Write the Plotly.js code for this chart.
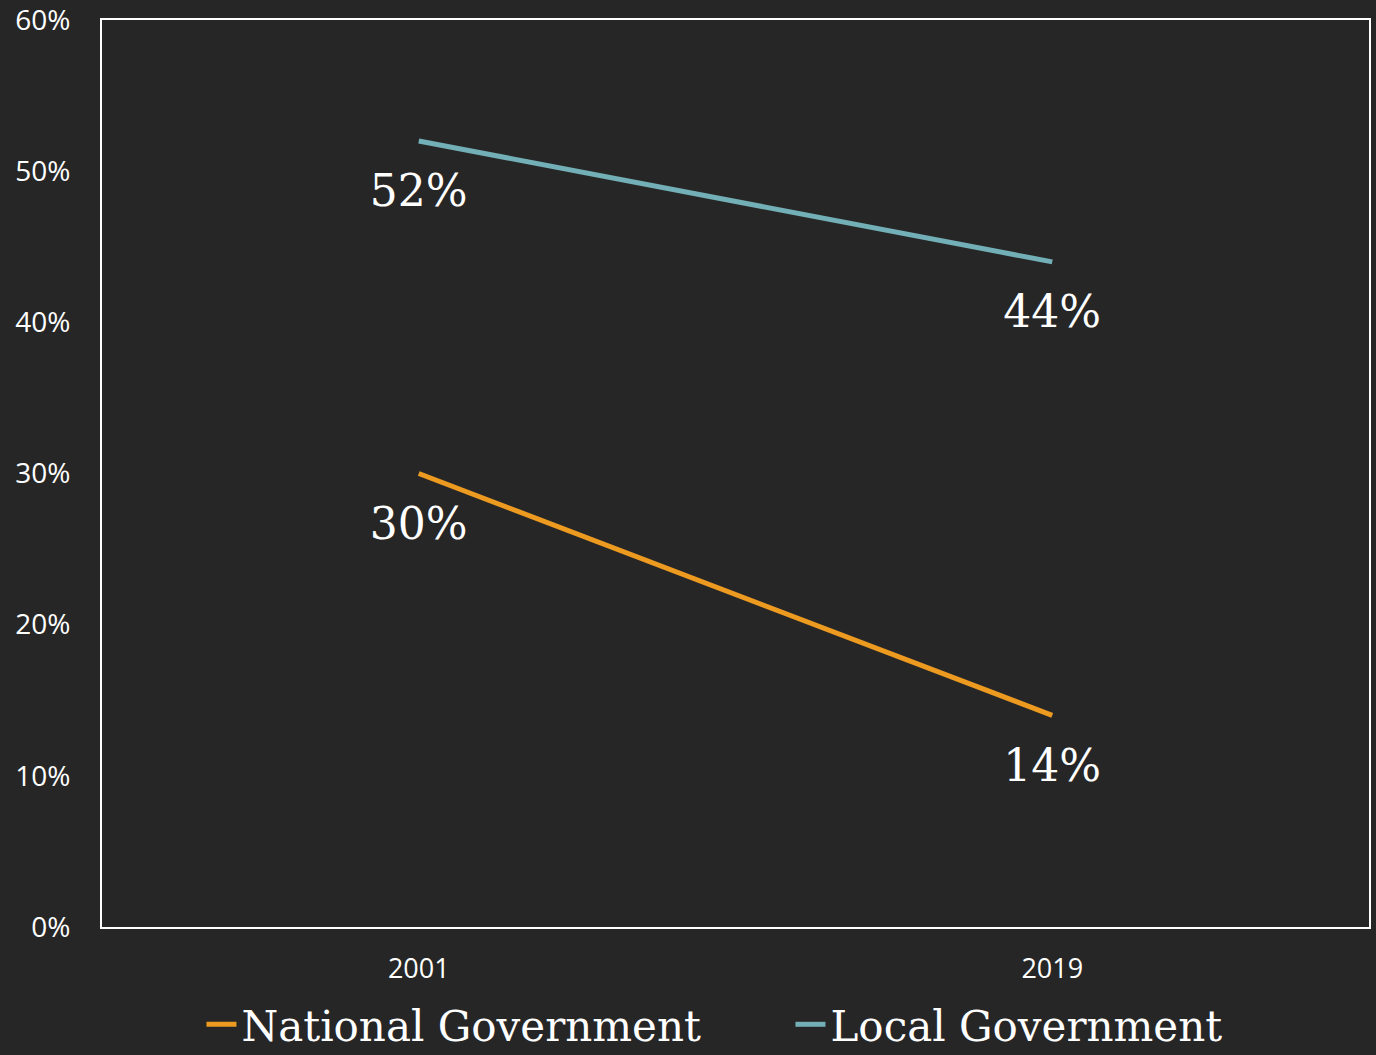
<!DOCTYPE html>
<html>
<head>
<meta charset="utf-8">
<script src="https://cdn.plot.ly/plotly-3.0.1.min.js"></script>
<style>
html,body{margin:0;padding:0;background:#262626;}
#chart{width:1376px;height:1055px;}
</style>
</head>
<body>
<div id="chart"></div>
<script>
const years = ['2001', '2019'];
const nationalValues = [0.30, 0.14];
const localValues = [0.52, 0.44];
const nationalLabels = ['30%', '14%'];
const localLabels = ['52%', '44%'];

const labelFont = {family: 'DejaVu Serif', size: 44, color: '#ffffff'};
const orange = '#ED9A21';
const teal = '#72AFB6';

const traces = [
  {
    x: years, y: nationalValues, name: 'National Government',
    type: 'scatter', mode: 'lines',
    line: {color: orange, width: 5},
    hoverinfo: 'skip'
  },
  {
    x: years, y: localValues, name: 'Local Government',
    type: 'scatter', mode: 'lines',
    line: {color: teal, width: 5},
    hoverinfo: 'skip'
  },
  {
    x: years, y: nationalValues, showlegend: false,
    type: 'scatter', mode: 'markers+text',
    text: nationalLabels, textposition: 'bottom center', textfont: labelFont,
    marker: {size: 50, color: 'rgba(0,0,0,0)'},
    hoverinfo: 'skip'
  },
  {
    x: years, y: localValues, showlegend: false,
    type: 'scatter', mode: 'markers+text',
    text: localLabels, textposition: 'bottom center', textfont: labelFont,
    marker: {size: 50, color: 'rgba(0,0,0,0)'},
    hoverinfo: 'skip'
  }
];

const layout = {
  width: 1376, height: 1055,
  paper_bgcolor: '#262626', plot_bgcolor: '#262626',
  margin: {l: 102, r: 7, t: 20, b: 128, autoexpand: false},
  showlegend: true,
  legend: {
    orientation: 'h', x: 0.0785, xanchor: 'left', y: -0.070, yanchor: 'top',
    font: {family: 'DejaVu Serif', size: 42, color: '#ffffff'},
    bgcolor: 'rgba(0,0,0,0)', itemwidth: 30,
    entrywidth: 544, entrywidthmode: 'pixels'
  },
  xaxis: {
    type: 'category', range: [-0.5, 1.5],
    showgrid: false, zeroline: false,
    showline: true, mirror: true, linecolor: '#ffffff', linewidth: 2,
    ticks: '', ticklabelstandoff: 17, ticklabeloverflow: 'allow',
    tickfont: {family: 'Open Sans', size: 27, color: '#ffffff'}
  },
  yaxis: {
    range: [0, 0.6], dtick: 0.1, tickformat: '.0%',
    showgrid: false, zeroline: false,
    showline: true, mirror: true, linecolor: '#ffffff', linewidth: 2,
    ticks: '', ticklabelstandoff: 24, ticklabeloverflow: 'allow',
    tickfont: {family: 'Open Sans', size: 28, color: '#ffffff'}
  }
};

Plotly.newPlot('chart', traces, layout, {displayModeBar: false, staticPlot: true});
</script>
</body>
</html>
